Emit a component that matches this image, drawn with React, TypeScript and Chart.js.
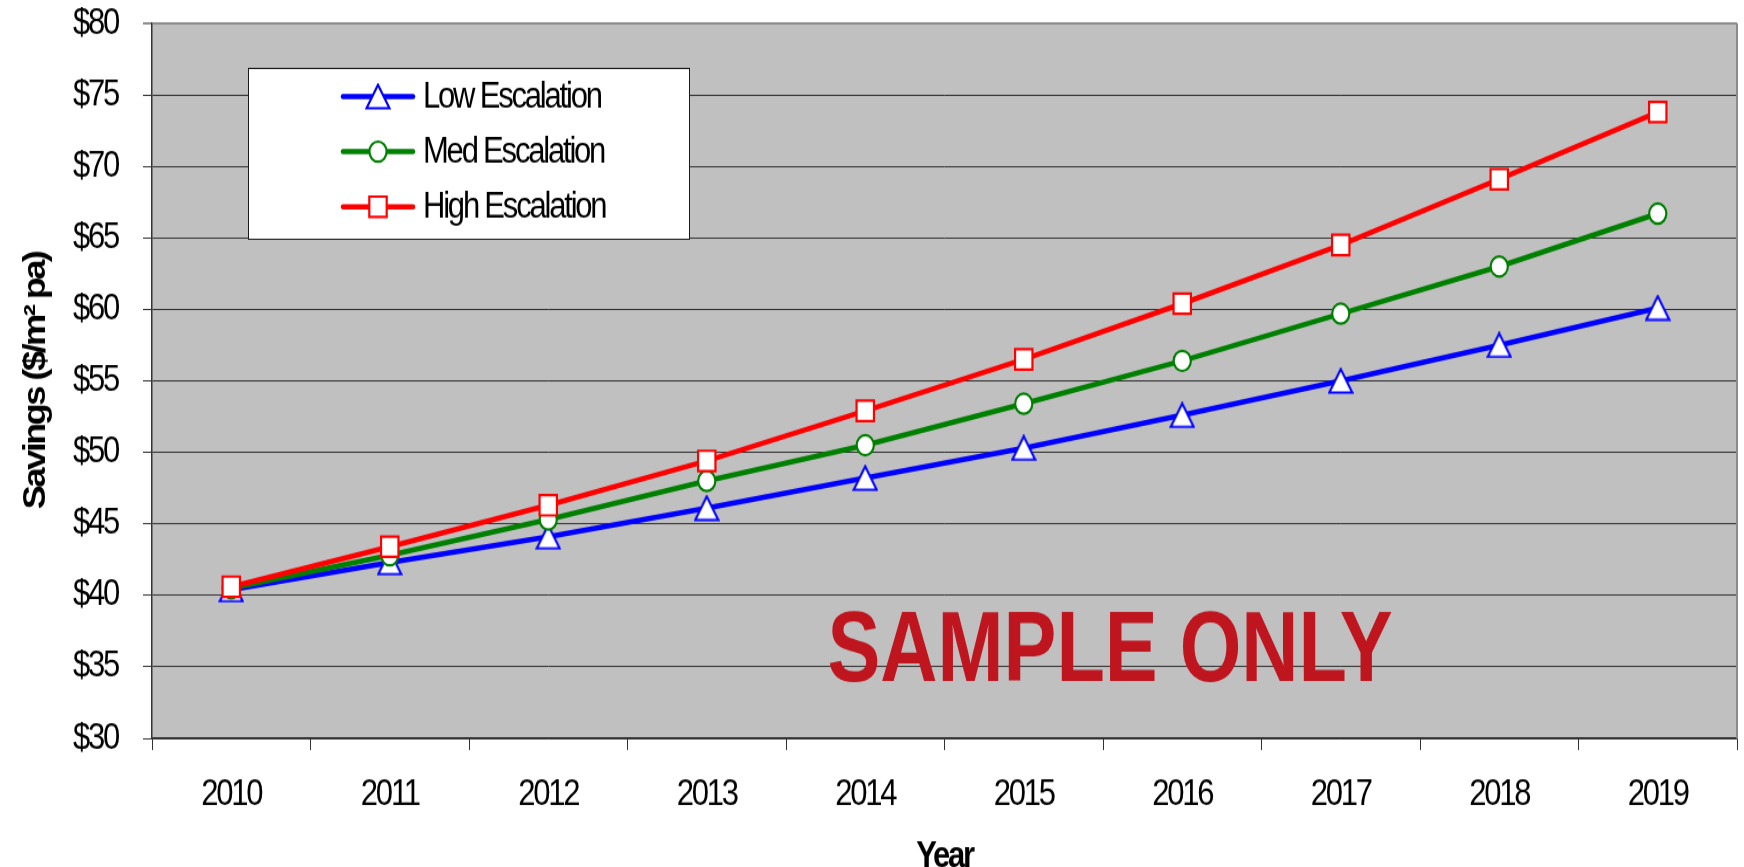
import React, { useEffect, useRef } from 'react';
import { Chart, registerables } from 'chart.js';

Chart.register(...registerables);

// ---------------- data ----------------
const years = ['2010', '2011', '2012', '2013', '2014', '2015', '2016', '2017', '2018', '2019'];
const lowEscalation = [40.4, 42.3, 44.1, 46.1, 48.2, 50.3, 52.6, 55.0, 57.5, 60.1];
const medEscalation = [40.5, 42.8, 45.3, 48.0, 50.5, 53.4, 56.4, 59.7, 63.0, 66.7];
const highEscalation = [40.6, 43.4, 46.3, 49.4, 52.9, 56.5, 60.4, 64.5, 69.1, 73.8];
const seriesNames = ['Low Escalation', 'Med Escalation', 'High Escalation'];
const yMin = 30;
const yMax = 80;
const yStep = 5;
const yAxisTitle = 'Savings ($/m\u00B2 pa)';
const xAxisTitle = 'Year';
const watermarkText = 'SAMPLE ONLY';

// ---------------- layout / style ----------------
const OUT_W = 1744;
const OUT_H = 867;
const STRETCH = 1.17; // the reference is vertically stretched
const H = Math.round(OUT_H / STRETCH);
const FONT = "'Liberation Sans Narrow', 'Arial Narrow', 'Liberation Sans', Arial, sans-serif";
const TEXT_SPACING = '-2.2px';

function makeTriangle(color: string): HTMLCanvasElement {
  const c = document.createElement('canvas');
  const w = 26;
  const h = 23;
  c.width = w;
  c.height = h;
  const g = c.getContext('2d') as CanvasRenderingContext2D;
  g.beginPath();
  g.moveTo(w / 2, 1.5);
  g.lineTo(w - 1.5, h - 1.5);
  g.lineTo(1.5, h - 1.5);
  g.closePath();
  g.fillStyle = '#ffffff';
  g.fill();
  g.lineWidth = 2.2;
  g.lineJoin = 'miter';
  g.strokeStyle = color;
  g.stroke();
  return c;
}

function drawMarker(ctx: CanvasRenderingContext2D, shape: any, x: number, y: number, r: number, stroke: string, lw: number) {
  ctx.save();
  if (shape && typeof shape !== 'string') {
    ctx.drawImage(shape, x - shape.width / 2, y - shape.height / 2);
    ctx.restore();
    return;
  }
  ctx.beginPath();
  if (shape === 'circle') {
    ctx.arc(x, y, r, 0, Math.PI * 2);
  } else {
    const s = Math.SQRT1_2 * r;
    ctx.rect(x - s, y - s, 2 * s, 2 * s);
  }
  ctx.fillStyle = '#ffffff';
  ctx.fill();
  ctx.lineWidth = lw;
  ctx.strokeStyle = stroke;
  ctx.stroke();
  ctx.restore();
}

const zeroPadding = () => ({ left: 0, top: 0, right: 0, bottom: 0 });

const condensedText = {
  id: 'condensedText',
  beforeUpdate(chart: any) {
    (chart.ctx as any).letterSpacing = TEXT_SPACING;
  },
  beforeDraw(chart: any) {
    (chart.ctx as any).letterSpacing = TEXT_SPACING;
  },
};

const plotBackground = {
  id: 'plotBackground',
  beforeDraw(chart: any) {
    const { ctx, chartArea } = chart;
    ctx.save();
    ctx.fillStyle = '#ffffff';
    ctx.fillRect(0, 0, chart.width, chart.height);
    ctx.fillStyle = '#C0C0C0';
    ctx.fillRect(chartArea.left, chartArea.top, chartArea.right - chartArea.left, chartArea.bottom - chartArea.top);
    ctx.restore();
  },
  beforeDatasetsDraw(chart: any) {
    const { ctx, chartArea } = chart;
    // right border
    ctx.save();
    ctx.strokeStyle = '#8c8c8c';
    ctx.lineWidth = 2;
    ctx.beginPath();
    ctx.moveTo(chartArea.right, chartArea.top);
    ctx.lineTo(chartArea.right, chartArea.bottom);
    ctx.stroke();
    ctx.restore();
    // watermark
    const w = chartArea.right - chartArea.left;
    const h = chartArea.bottom - chartArea.top;
    const cx = chartArea.left + w * 0.6044;
    const baseY = chartArea.top + h * 0.919;
    ctx.save();
    (ctx as any).letterSpacing = '0px';
    ctx.font = `bold 85px ${FONT}`;
    const tw = ctx.measureText(watermarkText).width;
    const targetW = w * 0.3565;
    ctx.translate(cx, baseY);
    ctx.scale(targetW / tw, 1);
    ctx.fillStyle = '#BE151E';
    ctx.textAlign = 'center';
    ctx.textBaseline = 'alphabetic';
    ctx.fillText(watermarkText, 0, 0);
    ctx.restore();
  },
};

const boxLegend = {
  id: 'boxLegend',
  afterDraw(chart: any) {
    const { ctx, chartArea } = chart;
    const left = chartArea.left + 96;
    const top = chartArea.top + 38;
    const width = 441;
    const height = 146;
    ctx.save();
    ctx.fillStyle = '#ffffff';
    ctx.fillRect(left, top, width, height);
    ctx.strokeStyle = '#1a1a1a';
    ctx.lineWidth = 1;
    ctx.strokeRect(left + 0.5, top + 0.5, width, height);
    const rowH = 47.1;
    chart.data.datasets.forEach((ds: any, i: number) => {
      const y = top + 24.5 + i * rowH;
      ctx.strokeStyle = ds.borderColor;
      ctx.lineWidth = ds.borderWidth;
      ctx.lineCap = 'round';
      ctx.beginPath();
      ctx.moveTo(left + 95, y);
      ctx.lineTo(left + 165, y);
      ctx.stroke();
      drawMarker(ctx, ds.pointStyle, left + 130, y, ds.pointRadius, ds.borderColor, ds.pointBorderWidth);
      ctx.fillStyle = '#000000';
      (ctx as any).letterSpacing = TEXT_SPACING;
      ctx.font = `31px ${FONT}`;
      ctx.textAlign = 'left';
      ctx.textBaseline = 'middle';
      ctx.fillText(ds.label, left + 175, y + 1);
    });
    ctx.restore();
  },
};

export default function App() {
  const canvasRef = useRef<HTMLCanvasElement | null>(null);

  useEffect(() => {
    const canvas = canvasRef.current;
    if (!canvas) return;
    const blueTriangle = makeTriangle('#0000FF');
    const chart = new Chart(canvas, {
      type: 'line',
      data: {
        labels: years,
        datasets: [
          {
            label: seriesNames[0],
            data: lowEscalation,
            borderColor: '#0000FF',
            backgroundColor: '#ffffff',
            borderWidth: 4.5,
            pointStyle: blueTriangle,
            pointRadius: 12,
            pointBorderWidth: 2,
            pointBackgroundColor: '#ffffff',
            pointBorderColor: '#0000FF',
            tension: 0,
            order: 2,
          },
          {
            label: seriesNames[1],
            data: medEscalation,
            borderColor: '#008000',
            backgroundColor: '#ffffff',
            borderWidth: 4.5,
            pointStyle: 'circle',
            pointRadius: 8.6,
            pointBorderWidth: 2.2,
            pointBackgroundColor: '#ffffff',
            pointBorderColor: '#008000',
            tension: 0,
            order: 1,
          },
          {
            label: seriesNames[2],
            data: highEscalation,
            borderColor: '#FF0000',
            backgroundColor: '#ffffff',
            borderWidth: 4.5,
            pointStyle: 'rect',
            pointRadius: 12.3,
            pointBorderWidth: 2.2,
            pointBackgroundColor: '#ffffff',
            pointBorderColor: '#FF0000',
            tension: 0,
            order: 0,
          },
        ] as any,
      },
      options: {
        responsive: false,
        animation: false,
        devicePixelRatio: 1,
        layout: { autoPadding: false, padding: { top: 20, right: 7, left: 0, bottom: 0 } },
        plugins: {
          legend: { display: false },
          tooltip: { enabled: false },
        },
        scales: {
          x: {
            type: 'category',
            offset: true,
            afterFit: (scale: any) => {
              scale.height = 110;
              scale.paddingLeft = 0;
              scale.paddingRight = 0;
              scale.getPadding = zeroPadding;
            },
            grid: {
              offset: true,
              drawOnChartArea: false,
              drawTicks: true,
              tickLength: 10,
              color: '#333333',
              lineWidth: 1,
            },
            border: { display: true, color: '#333333', width: 1.5 },
            ticks: {
              color: '#000000',
              font: { family: FONT, size: 31 },
              padding: 20,
              maxRotation: 0,
              autoSkip: false,
            },
            title: {
              display: true,
              text: xAxisTitle,
              color: '#000000',
              font: { family: FONT, size: 31, weight: 'bold' },
              padding: { top: 0, bottom: -10 },
            },
          },
          y: {
            type: 'linear',
            min: yMin,
            max: yMax,
            afterFit: (scale: any) => {
              scale.width = 152;
              scale.paddingTop = 0;
              scale.paddingBottom = 0;
              scale.getPadding = zeroPadding;
            },
            grid: {
              drawOnChartArea: true,
              drawTicks: true,
              tickLength: 9,
              color: (c: any) => (c.tick && c.tick.value === yMax ? '#8c8c8c' : '#333333'),
              lineWidth: (c: any) => (c.tick && c.tick.value === yMax ? 2 : 1),
            },
            border: { display: true, color: '#333333', width: 1.5 },
            ticks: {
              stepSize: yStep,
              color: '#000000',
              font: { family: FONT, size: 31 },
              padding: 25,
              callback: (v: any) => '$' + v,
            },
            title: {
              display: true,
              text: yAxisTitle,
              color: '#000000',
              font: { family: FONT, size: 31, weight: 'bold' },
              padding: { top: 18, bottom: 0 },
            },
          },
        },
      } as any,
      plugins: [condensedText, plotBackground, boxLegend],
    });
    return () => {
      chart.destroy();
    };
  }, []);

  return (
    <div style={{ position: 'absolute', left: 0, top: 0, width: OUT_W, height: OUT_H, background: '#ffffff' }}>
      <canvas
        ref={canvasRef}
        width={OUT_W}
        height={H}
        style={{ display: 'block', width: OUT_W + 'px', height: OUT_H + 'px' }}
      />
    </div>
  );
}
